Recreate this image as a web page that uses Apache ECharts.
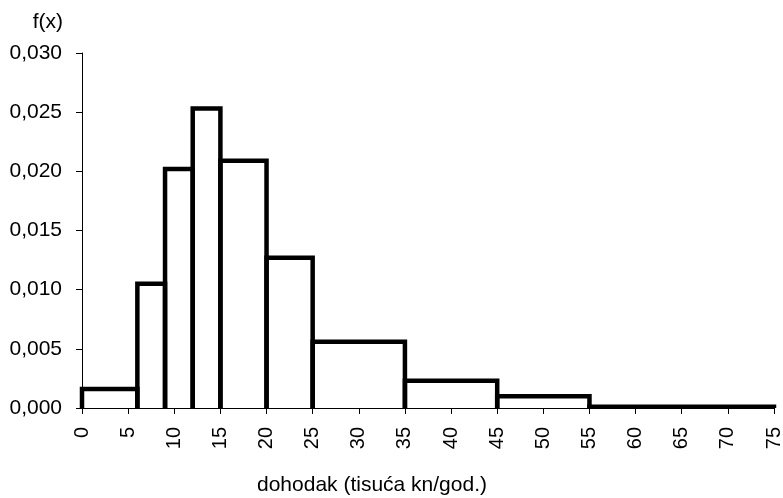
<!DOCTYPE html>
<html>
<head>
<meta charset="utf-8">
<script src="https://cdn.jsdelivr.net/npm/echarts@6/dist/echarts.min.js"></script>
<style>
html,body{margin:0;padding:0;background:#fff;}
#chart{width:783px;height:498px;}
</style>
</head>
<body>
<div id="chart"></div>
<script>
var binStart = [0, 6, 9, 12, 15, 20, 25, 35, 45, 55];
var binEnd   = [6, 9, 12, 15, 20, 25, 35, 45, 55, 75];
var density  = [0.0016, 0.0105, 0.0202, 0.0253, 0.0209, 0.0127, 0.0056, 0.0023, 0.0010, 0.0001];
var xTicks = { min: 0, max: 75, interval: 5 };
var yTicks = { min: 0, max: 0.03, interval: 0.005 };

var data = binStart.map(function (s, i) { return [s, binEnd[i], density[i]]; });
var font = 'Liberation Sans, Arial, sans-serif';

var chart = echarts.init(document.getElementById('chart'));
chart.setOption({
  animation: false,
  backgroundColor: '#fff',
  grid: { left: 82, right: 9, top: 53, bottom: 90, containLabel: false, outerBoundsMode: 'none' },
  xAxis: {
    type: 'value',
    min: xTicks.min, max: xTicks.max, interval: xTicks.interval,
    name: 'dohodak (tisuća kn/god.)',
    nameLocation: 'middle',
    nameGap: 77,
    nameTextStyle: { fontFamily: font, fontSize: 21, color: '#000', verticalAlign: 'middle', padding: [0, 112, 0, 0] },
    axisLine: { show: true, lineStyle: { color: '#000', width: 1 } },
    axisTick: { show: true, length: 6, lineStyle: { color: '#000' } },
    axisLabel: { rotate: 90, margin: 19, fontFamily: font, fontSize: 20, color: '#000' },
    splitLine: { show: false }
  },
  yAxis: {
    type: 'value',
    min: yTicks.min, max: yTicks.max, interval: yTicks.interval,
    name: 'f(x)',
    nameLocation: 'end',
    nameGap: 31,
    nameTextStyle: { fontFamily: font, fontSize: 21, color: '#000', align: 'right', verticalAlign: 'middle', padding: [0, 19, 0, 0] },
    axisLine: { show: true, lineStyle: { color: '#000', width: 1 } },
    axisTick: { show: true, length: 6, lineStyle: { color: '#000' } },
    axisLabel: {
      margin: 20, fontFamily: font, fontSize: 21, color: '#000',
      formatter: function (v) { return v.toFixed(3).replace('.', ','); }
    },
    splitLine: { show: false }
  },
  series: [{
    type: 'custom',
    data: data,
    clip: false,
    renderItem: function (params, api) {
      var x0 = api.value(0), x1 = api.value(1), h = api.value(2);
      var p00 = api.coord([x0, 0]);
      var p0h = api.coord([x0, h]);
      var p1h = api.coord([x1, h]);
      var p10 = api.coord([x1, 0]);
      return {
        type: 'polyline',
        shape: { points: [p00, p0h, p1h, p10] },
        style: { fill: null, stroke: '#000', lineWidth: 4.5, lineJoin: 'miter', lineCap: 'butt' }
      };
    }
  }]
});
</script>
</body>
</html>
